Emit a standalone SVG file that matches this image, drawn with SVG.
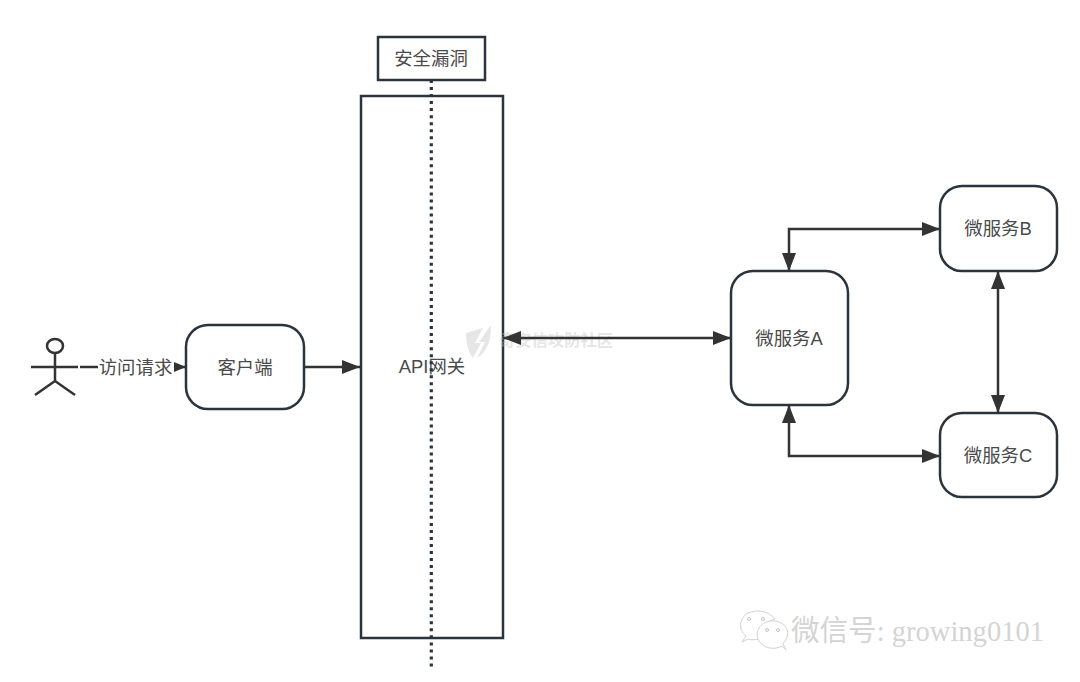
<svg xmlns="http://www.w3.org/2000/svg" width="1080" height="682" viewBox="0 0 1080 682">
<defs>
<style>
.box{fill:#fff;stroke:#2b343c;stroke-width:2.5}
.line{fill:none;stroke:#333;stroke-width:2.5}
.arrow{marker-end:url(#head)}
.both{marker-start:url(#headStart);marker-end:url(#head)}
.t{font-family:"Liberation Sans","Noto Sans CJK SC",sans-serif;font-size:18.400px;fill:#4a4a4a;text-anchor:middle}
.wm{font-family:"Liberation Sans","Noto Sans CJK SC",sans-serif;font-weight:700;fill:#bdbdbd;fill-opacity:.4}
.wx{font-family:"Liberation Serif","Noto Sans CJK SC",serif;fill:#d4d4d4}
</style>
<marker id="head" markerUnits="userSpaceOnUse" markerWidth="19" markerHeight="14" refX="18" refY="7" orient="auto"><path d="M0 0L18 7L0 14Z" fill="#333"/></marker>
<marker id="headStart" markerUnits="userSpaceOnUse" markerWidth="19" markerHeight="14" refX="0" refY="7" orient="auto"><path d="M18 0L0 7L18 14Z" fill="#333"/></marker>
<marker id="small" markerUnits="userSpaceOnUse" markerWidth="13" markerHeight="10" refX="12" refY="5" orient="auto"><path d="M0 0L12 5L0 10Z" fill="#333"/></marker>
</defs>
<rect width="1080" height="682" fill="#fff"/>
<g id="gateway"><rect class="box" x="361" y="96" width="142" height="542"/><text class="t" x="432" y="373">API网关</text></g>
<g id="security"><rect class="box" x="378" y="37" width="107" height="43"/><text class="t" x="431" y="65">安全漏洞</text></g>
<g id="actor" class="line"><ellipse cx="55" cy="346" rx="8" ry="7"/><path d="M55 353V381M31 367H78M35 395L55 381L75 395"/></g>
<g id="client"><rect class="box" x="186" y="325" width="118" height="84" rx="22"/><text class="t" x="245" y="374">客户端</text></g>
<g id="serviceA"><rect class="box" x="731" y="271" width="117" height="134" rx="22"/><text class="t" x="789" y="345">微服务A</text></g>
<g id="serviceB"><rect class="box" x="940" y="186" width="117" height="85" rx="22"/><text class="t" x="998" y="235">微服务B</text></g>
<g id="serviceC"><rect class="box" x="940" y="413" width="117" height="84" rx="22"/><text class="t" x="998" y="462">微服务C</text></g>
<g id="watermark-shield">
<path d="M466 333L483 328L475 343H481L473 358C468 352 466 343 466 333Z" fill="#e6e6e6"/>
<path d="M491 325C491 340 488 351 477 358L485 342H479Z" fill="#e6e6e6"/>
<text class="wm" x="499" y="346" font-size="16.300">奇安信攻防社区</text>
</g>
<g id="connectors">
<path class="line" d="M80 367H98"/>
<path class="line" d="M174 367H186" marker-end="url(#small)"/>
<text class="t" x="135.500" y="374">访问请求</text>
<path class="line arrow" d="M304 367H360"/>
<path class="line" d="M431.300 80V666.500" stroke-dasharray="3 4.030" style="stroke-width:3.200;stroke:#2b343c"/>
<path class="line both" d="M503 338H731"/>
<path class="line both" d="M789 271V229H940"/>
<path class="line both" d="M789 405V456H940"/>
<path class="line both" d="M998 271V413"/>
</g>
<g id="watermark-wechat">
<g fill="#fff" stroke="#d2d2d2" stroke-width="1">
<path d="M746 636C738 630 739 618 748 613C757 609 769 611 775 619L768 622C760 625 757 633 759 639C755 640 751 640 748 639L742 642Z"/>
<path d="M782 646C775 650 764 649 759 641C754 632 760 622 771 621C783 620 790 629 787 637C786 640 784 642 783 644L786 650Z"/>
</g>
<g fill="#fff" stroke="#c4c4c4" stroke-width="1"><circle cx="749" cy="619" r="1.500"/><circle cx="763" cy="619" r="1.500"/><circle cx="767" cy="630" r="1.500"/><circle cx="778" cy="630" r="1.500"/></g>
<text class="wx" x="791" y="641" font-size="29" textLength="253" lengthAdjust="spacingAndGlyphs">微信号: growing0101</text>
</g>
</svg>
